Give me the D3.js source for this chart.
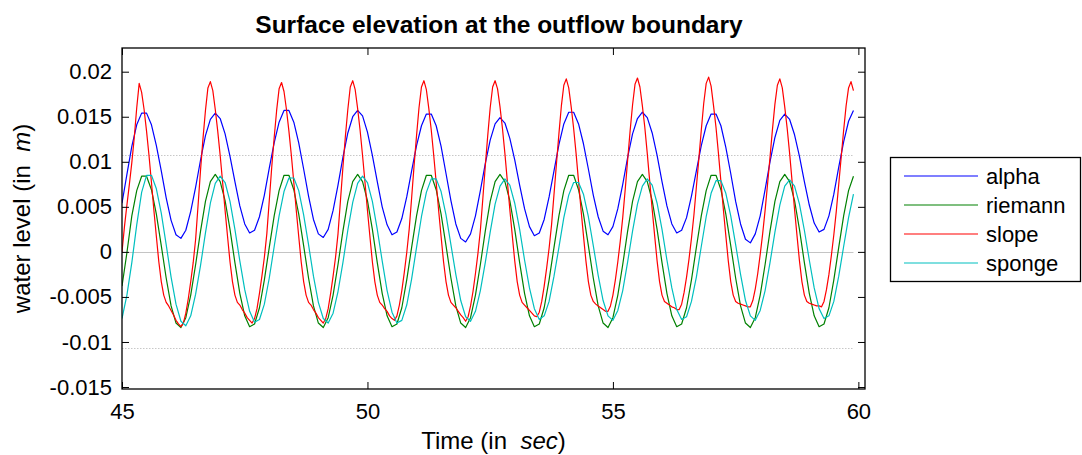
<!DOCTYPE html>
<html><head><meta charset="utf-8">
<script src="https://cdn.jsdelivr.net/npm/d3@7"></script>
<style>
html,body{margin:0;padding:0;background:#fff;}
svg{display:block;font-family:"Liberation Sans",Arial,Helvetica,sans-serif;}
</style></head><body>
<svg id="chart" width="1082" height="455"></svg>
<script>
const titleText = "Surface elevation at the outflow boundary";
const seriesNames = ["alpha", "riemann", "slope", "sponge"];
const seriesColors = ["#0000ff", "#008000", "#ff0000", "#00bfbf"];
const xTicks = [45, 50, 55, 60];
const yTicks = [-0.015, -0.01, -0.005, 0, 0.005, 0.01, 0.015, 0.02];
const yTickLabels = ["-0.015", "-0.01", "-0.005", "0", "0.005", "0.01", "0.015", "0.02"];
const refLevels = [0.0107, 0, -0.0107];
const refEnd = 59.9;
const tStart = 45;
const dtCoarse = 0.1;   // alpha, riemann, sponge sampling
const dtFine = 0.05;    // slope sampling

const alpha = [
 .0054,.0086,.0117,.0141,
 .0154,.0154,.0141,.0118,.0090,.0060,.0035,.0019,.0015,.0024,.0045,.0072,.0102,.0129,
 .0147,.0154,.0148,.0131,.0106,.0078,.0051,.0031,.0021,.0024,.0039,.0063,.0093,.0121,.0144,
 .0157,.0157,.0144,.0121,.0092,.0062,.0036,.0020,.0016,.0025,.0046,.0074,.0105,.0132,
 .0150,.0157,.0151,.0133,.0107,.0078,.0050,.0030,.0019,.0022,.0037,.0061,.0090,.0118,.0140,
 .0153,.0153,.0140,.0117,.0087,.0057,.0031,.0015,.0011,.0020,.0040,.0068,.0098,.0124,
 .0142,.0149,.0143,.0126,.0102,.0074,.0048,.0028,.0018,.0021,.0036,.0061,.0090,.0119,.0142,
 .0155,.0155,.0142,.0120,.0092,.0063,.0039,.0023,.0019,.0028,.0048,.0075,.0105,.0131,
 .0148,.0155,.0149,.0132,.0107,.0078,.0051,.0031,.0021,.0024,.0038,.0062,.0090,.0118,.0140,
 .0153,.0153,.0140,.0116,.0087,.0056,.0031,.0014,.0010,.0020,.0040,.0069,.0100,.0127,
 .0146,.0153,.0147,.0130,.0106,.0078,.0052,.0032,.0022,.0025,.0040,.0064,.0094,.0122,.0145,
 .0157
];
const riemann = [
 -.0038,-.0001,.0040,.0068,
 .0084,.0084,.0069,.0042,.0007,-.0029,-.0060,-.0079,-.0084,-.0073,-.0048,-.0014,.0023,.0056,
 .0078,.0086,.0078,.0057,.0025,-.0012,-.0046,-.0071,-.0083,-.0080,-.0062,-.0031,.0005,.0040,.0068,
 .0085,.0085,.0069,.0042,.0007,-.0029,-.0060,-.0079,-.0084,-.0073,-.0048,-.0014,.0023,.0056,
 .0078,.0086,.0078,.0057,.0025,-.0012,-.0046,-.0071,-.0083,-.0080,-.0062,-.0031,.0005,.0040,.0068,
 .0085,.0085,.0069,.0042,.0007,-.0029,-.0060,-.0079,-.0084,-.0073,-.0048,-.0014,.0023,.0056,
 .0078,.0086,.0078,.0057,.0025,-.0012,-.0046,-.0071,-.0083,-.0080,-.0062,-.0031,.0005,.0040,.0068,
 .0085,.0085,.0069,.0042,.0007,-.0029,-.0060,-.0079,-.0084,-.0073,-.0048,-.0014,.0023,.0056,
 .0078,.0086,.0078,.0057,.0025,-.0012,-.0046,-.0071,-.0083,-.0080,-.0062,-.0031,.0005,.0040,.0068,
 .0085,.0085,.0069,.0042,.0007,-.0029,-.0060,-.0079,-.0084,-.0073,-.0048,-.0014,.0023,.0056,
 .0078,.0086,.0078,.0057,.0025,-.0012,-.0046,-.0071,-.0083,-.0080,-.0062,-.0031,.0005,.0040,.0068,
 .0084
];
const slope = [
 .0000,.0028,.0052,.0075,.0099,.0127,.0160,
 .0187,.0177,.0158,.0134,.0107,.0077,.0046,.0017,-.0011,-.0033,-.0048,-.0056,-.0060,-.0065,-.0070,-.0076,-.0080,-.0083,-.0079,-.0068,-.0052,-.0033,-.0012,.0014,.0052,.0091,.0126,.0157,.0182,
 .0189,.0179,.0158,.0134,.0107,.0077,.0046,.0017,-.0011,-.0033,-.0048,-.0056,-.0059,-.0064,-.0068,-.0073,-.0076,-.0079,-.0074,-.0063,-.0046,-.0027,-.0006,.0020,.0057,.0094,.0127,.0157,.0181,
 .0188,.0178,.0158,.0134,.0107,.0077,.0046,.0017,-.0011,-.0033,-.0048,-.0056,-.0059,-.0064,-.0068,-.0073,-.0076,-.0079,-.0074,-.0063,-.0046,-.0027,-.0006,.0020,.0057,.0094,.0128,.0158,.0183,
 .0190,.0180,.0159,.0135,.0107,.0077,.0046,.0017,-.0011,-.0033,-.0048,-.0056,-.0059,-.0063,-.0066,-.0071,-.0074,-.0076,-.0071,-.0059,-.0043,-.0023,-.0001,.0025,.0060,.0096,.0129,.0160,.0183,
 .0190,.0180,.0159,.0135,.0107,.0077,.0046,.0017,-.0011,-.0033,-.0048,-.0056,-.0059,-.0062,-.0066,-.0070,-.0073,-.0077,-.0072,-.0060,-.0044,-.0024,-.0002,.0024,.0059,.0095,.0129,.0160,.0183,
 .0190,.0181,.0161,.0137,.0109,.0078,.0047,.0018,-.0010,-.0033,-.0048,-.0056,-.0059,-.0062,-.0065,-.0068,-.0071,-.0072,-.0067,-.0055,-.0038,-.0018,.0004,.0030,.0064,.0098,.0131,.0162,.0185,
 .0192,.0182,.0161,.0137,.0109,.0078,.0047,.0018,-.0010,-.0033,-.0048,-.0055,-.0058,-.0060,-.0062,-.0064,-.0066,-.0066,-.0060,-.0048,-.0031,-.0011,.0012,.0038,.0069,.0102,.0134,.0163,.0186,
 .0193,.0183,.0162,.0138,.0109,.0078,.0047,.0018,-.0010,-.0033,-.0048,-.0055,-.0057,-.0059,-.0061,-.0062,-.0064,-.0064,-.0058,-.0045,-.0028,-.0008,.0015,.0041,.0072,.0103,.0135,.0165,.0187,
 .0194,.0184,.0162,.0138,.0109,.0078,.0047,.0018,-.0010,-.0033,-.0048,-.0055,-.0057,-.0058,-.0059,-.0060,-.0061,-.0061,-.0054,-.0041,-.0024,-.0003,.0020,.0046,.0075,.0105,.0136,.0164,.0185,
 .0192,.0182,.0161,.0137,.0109,.0078,.0047,.0018,-.0010,-.0033,-.0048,-.0055,-.0057,-.0058,-.0059,-.0060,-.0060,-.0061,-.0055,-.0042,-.0025,-.0004,.0019,.0045,.0075,.0105,.0135,.0162,.0182,
 .0189,.0179
];
const sponge = [
 -.0074,-.0048,-.0012,.0030,
 .0066,.0085,.0085,.0070,.0043,.0008,-.0028,-.0058,-.0077,-.0082,-.0071,-.0047,-.0015,.0021,
 .0054,.0076,.0084,.0077,.0056,.0025,-.0010,-.0042,-.0066,-.0078,-.0075,-.0058,-.0029,.0006,.0040,
 .0067,.0082,.0082,.0068,.0041,.0008,-.0027,-.0056,-.0074,-.0079,-.0068,-.0044,-.0012,.0024,
 .0055,.0076,.0084,.0077,.0056,.0025,-.0010,-.0043,-.0067,-.0079,-.0076,-.0059,-.0030,.0005,.0039,
 .0066,.0081,.0081,.0067,.0041,.0008,-.0025,-.0054,-.0072,-.0077,-.0066,-.0043,-.0012,.0022,
 .0053,.0073,.0081,.0074,.0054,.0025,-.0009,-.0040,-.0063,-.0075,-.0071,-.0055,-.0027,.0005,.0038,
 .0063,.0077,.0077,.0064,.0039,.0007,-.0026,-.0054,-.0071,-.0076,-.0065,-.0043,-.0011,.0023,
 .0053,.0073,.0081,.0074,.0054,.0025,-.0009,-.0040,-.0064,-.0075,-.0072,-.0055,-.0028,.0006,.0039,
 .0065,.0079,.0079,.0065,.0040,.0008,-.0025,-.0054,-.0071,-.0076,-.0065,-.0043,-.0012,.0022,
 .0052,.0073,.0080,.0073,.0053,.0024,-.0009,-.0040,-.0063,-.0074,-.0071,-.0055,-.0027,.0006,.0038,
 .0064
];

const seriesData = [alpha, riemann, slope, sponge];
const seriesDt = [dtCoarse, dtCoarse, dtFine, dtCoarse];

const svg = d3.select("#chart");
const W = 1082, H = 455;
const plot = {left: 122, right: 865, top: 48, bottom: 389};

const x = d3.scaleLinear().domain([45, 60.135]).range([plot.left, plot.right]);
const y = d3.scaleLinear().domain([-0.01522, 0.02263]).range([plot.bottom, plot.top]);

svg.append("rect").attr("width", W).attr("height", H).attr("fill", "#fff");

svg.append("defs").append("clipPath").attr("id", "clip")
  .append("rect").attr("x", plot.left).attr("y", plot.top)
  .attr("width", plot.right - plot.left).attr("height", plot.bottom - plot.top);

// reference lines
const gRef = svg.append("g").attr("clip-path", "url(#clip)");
refLevels.forEach(v => {
  gRef.append("line")
    .attr("x1", x(tStart)).attr("x2", x(refEnd))
    .attr("y1", Math.round(y(v)) + 0.5).attr("y2", Math.round(y(v)) + 0.5)
    .attr("stroke", v === 0 ? "#c4c4c4" : "#c8c8c8")
    .attr("stroke-width", 1)
    .attr("stroke-dasharray", v === 0 ? null : "1.5,1.5");
});

// series
const line = d3.line().x(d => x(d[0])).y(d => y(d[1]));
const gLines = svg.append("g").attr("clip-path", "url(#clip)");
seriesData.forEach((vals, i) => {
  const pts = vals.map((v, k) => [tStart + k * seriesDt[i], v]);
  gLines.append("path").datum(pts)
    .attr("fill", "none")
    .attr("stroke", seriesColors[i])
    .attr("stroke-width", 1.2)
    .attr("stroke-linejoin", "round")
    .attr("d", line);
});

// axes (ticks inward)
const tickLen = 7;
const fontTick = "22px";
const axL = svg.append("g").attr("transform", `translate(${plot.left},0)`)
  .call(d3.axisLeft(y).tickValues(yTicks).tickFormat((d, i) => yTickLabels[i])
        .tickSizeInner(-tickLen).tickSizeOuter(0).tickPadding(10));
const axR = svg.append("g").attr("transform", `translate(${plot.right},0)`)
  .call(d3.axisRight(y).tickValues(yTicks).tickFormat("")
        .tickSizeInner(-tickLen).tickSizeOuter(0));
const axB = svg.append("g").attr("transform", `translate(0,${plot.bottom})`)
  .call(d3.axisBottom(x).tickValues(xTicks).tickFormat(d3.format("d"))
        .tickSizeInner(-tickLen).tickSizeOuter(0).tickPadding(14));
const axT = svg.append("g").attr("transform", `translate(0,${plot.top})`)
  .call(d3.axisTop(x).tickValues(xTicks).tickFormat("")
        .tickSizeInner(-tickLen).tickSizeOuter(0));
[axL, axR, axB, axT].forEach(g => {
  g.select(".domain").remove();
  g.selectAll(".tick line").attr("stroke", "#000").attr("stroke-width", 1);
  g.selectAll(".tick text").attr("fill", "#000").style("font-size", fontTick)
    .style("font-family", '"Liberation Sans", Arial, sans-serif');
});

// box
svg.append("rect")
  .attr("x", plot.left).attr("y", plot.top)
  .attr("width", plot.right - plot.left).attr("height", plot.bottom - plot.top)
  .attr("fill", "none").attr("stroke", "#000").attr("stroke-width", 1.3);

// title
svg.append("text").attr("x", 499).attr("y", 33)
  .attr("text-anchor", "middle").style("font-size", "24.5px").style("font-weight", "bold")
  .text(titleText);

// x label
const xl = svg.append("text").attr("x", (plot.left + plot.right) / 2).attr("y", 449)
  .attr("text-anchor", "middle").style("font-size", "24px").style("white-space", "pre");
xl.append("tspan").text("Time (in  ");
xl.append("tspan").style("font-style", "italic").text("sec");
xl.append("tspan").text(")");

// y label
const yl = svg.append("text")
  .attr("transform", `translate(30,${(plot.top + plot.bottom) / 2}) rotate(-90)`)
  .attr("text-anchor", "middle").style("font-size", "24px").style("white-space", "pre");
yl.append("tspan").text("water level (in  ");
yl.append("tspan").style("font-style", "italic").text("m");
yl.append("tspan").text(")");

// legend
const leg = {x: 890, y: 157, w: 191, h: 124, rowY0: 176, rowStep: 29};
svg.append("rect").attr("x", leg.x + 0.5).attr("y", leg.y + 0.5)
  .attr("width", leg.w - 1).attr("height", leg.h).attr("fill", "#fff")
  .attr("stroke", "#000").attr("stroke-width", 1.3);
seriesNames.forEach((name, i) => {
  const yy = leg.rowY0 + i * leg.rowStep;
  svg.append("line").attr("x1", 904).attr("x2", 978).attr("y1", yy).attr("y2", yy)
    .attr("stroke", seriesColors[i]).attr("stroke-width", 1.2);
  svg.append("text").attr("x", 986).attr("y", yy).attr("dy", "0.35em")
    .style("font-size", "22px").text(name);
});
</script>
</body></html>
